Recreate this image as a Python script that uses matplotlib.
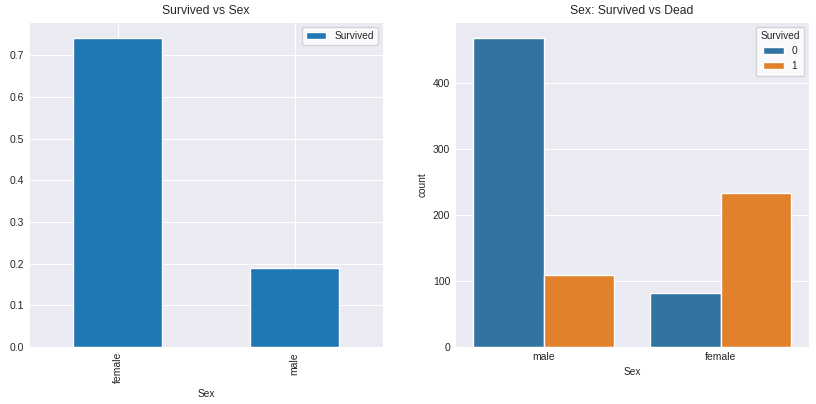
import matplotlib.pyplot as plt
import numpy as np
import seaborn as sns

sns.set_style('darkgrid')
plt.rcParams['font.family'] = ['Liberation Sans', 'DejaVu Sans']

# survival rate by sex
sex_rate = ['female', 'male']
survived_rate = [0.742038, 0.188908]

# counts by sex and survived
sex_count = ['male', 'female']
dead_count = [468, 81]
alive_count = [109, 233]

fig = plt.figure(figsize=(8.16, 4.04), dpi=100)
ax1 = fig.add_axes([0.0355, 0.141, 0.434, 0.804])
ax2 = fig.add_axes([0.5576, 0.141, 0.434, 0.804])

tc = '.15'
x = np.arange(len(sex_rate))
ax1.bar(x, survived_rate, width=0.5, color='#1f77b4', edgecolor='white',
        linewidth=1, label='Survived', zorder=2)
ax1.set_xlim(-0.5, 1.5)
ax1.set_ylim(0, max(survived_rate) * 1.05)
ax1.set_xticks(x)
ax1.set_xticklabels(sex_rate, rotation=90)
ax1.set_xlabel('Sex', fontsize=7.3, color=tc)
ax1.set_title('Survived vs Sex', fontsize=8.7, color=tc)
ax1.legend(loc='upper right', fontsize=7.3, facecolor='white', framealpha=0.8)

x2 = np.arange(len(sex_count))
ax2.bar(x2 - 0.2, dead_count, width=0.4, color='#3274a1', edgecolor='white',
        linewidth=1, label='0', zorder=2)
ax2.bar(x2 + 0.2, alive_count, width=0.4, color='#e1812c', edgecolor='white',
        linewidth=1, label='1', zorder=2)
ax2.set_xlim(-0.5, 1.5)
ax2.set_ylim(0, max(dead_count) * 1.05)
ax2.set_xticks(x2)
ax2.set_xticklabels(sex_count)
ax2.grid(False, axis='x')
ax2.set_xlabel('Sex', fontsize=7.3, color=tc)
ax2.set_ylabel('count', fontsize=7.3, color=tc)
ax2.set_title('Sex: Survived vs Dead', fontsize=8.7, color=tc)
leg = ax2.legend(title='Survived', loc='upper right', fontsize=7.3,
                 title_fontsize=7.3, facecolor='white', framealpha=0.8)

for ax in (ax1, ax2):
    ax.tick_params(labelsize=7.5, colors=tc, length=0)

fig.savefig('out.png', dpi=100)
